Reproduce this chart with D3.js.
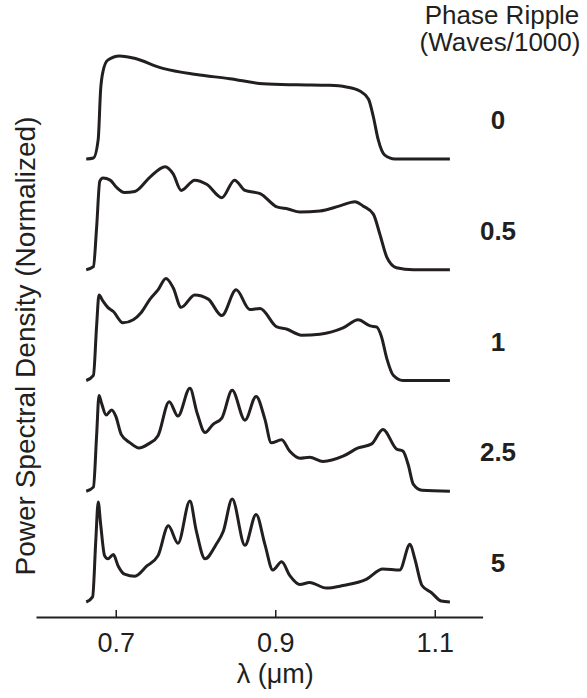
<!DOCTYPE html>
<html>
<head>
<meta charset="utf-8">
<script src="https://cdn.jsdelivr.net/npm/d3@7"></script>
<style>
  body { margin: 0; background: #fff; }
  text { font-family: "Liberation Sans", Arial, sans-serif; fill: #231f20; }
</style>
</head>
<body>
<div id="container"></div>
<script>
var totalWidth = 587,
    totalHeight = 698;

// phase ripple levels (waves/1000), top to bottom
var ripples = ["0", "0.5", "1", "2.5", "5"];
var xTicks = [0.7, 0.9, 1.1];

var lam0 = [0.663, 0.672, 0.678, 0.681, 0.684, 0.690, 0.705, 0.722, 0.759, 0.801, 0.843, 0.885, 0.927, 0.968, 0.989, 1.006, 1.017, 1.023, 1.029, 1.037, 1.050, 1.119];
var psd0 = [0, 0.01, 0.19, 0.67, 0.85, 0.96, 1.0, 0.98, 0.88, 0.82, 0.78, 0.73, 0.72, 0.715, 0.70, 0.66, 0.58, 0.41, 0.19, 0.04, 0, 0];

var lam1 = [0.663, 0.672, 0.676, 0.680, 0.684, 0.693, 0.701, 0.711, 0.724, 0.743, 0.762, 0.772, 0.782, 0.799, 0.814, 0.833, 0.849, 0.862, 0.881, 0.902, 0.916, 0.931, 0.956, 0.981, 1.000, 1.010, 1.023, 1.031, 1.040, 1.052, 1.073, 1.119];
var psd1 = [0, 0.03, 0.41, 0.86, 0.89, 0.87, 0.80, 0.75, 0.76, 0.90, 1.0, 0.93, 0.77, 0.87, 0.83, 0.70, 0.87, 0.77, 0.74, 0.61, 0.59, 0.56, 0.57, 0.62, 0.66, 0.62, 0.54, 0.35, 0.12, 0.02, 0, 0];

var lam2 = [0.663, 0.672, 0.676, 0.679, 0.684, 0.690, 0.697, 0.709, 0.722, 0.732, 0.743, 0.753, 0.763, 0.772, 0.782, 0.799, 0.816, 0.833, 0.851, 0.868, 0.881, 0.902, 0.914, 0.933, 0.956, 0.985, 1.004, 1.019, 1.027, 1.033, 1.040, 1.048, 1.060, 1.119];
var psd2 = [0, 0.05, 0.53, 0.83, 0.77, 0.71, 0.67, 0.56, 0.59, 0.66, 0.79, 0.88, 0.99, 0.90, 0.71, 0.83, 0.79, 0.63, 0.88, 0.69, 0.70, 0.52, 0.50, 0.44, 0.45, 0.51, 0.59, 0.53, 0.52, 0.43, 0.21, 0.05, 0, 0];

var lam3 = [0.663, 0.672, 0.676, 0.679, 0.682, 0.688, 0.695, 0.700, 0.707, 0.718, 0.729, 0.741, 0.753, 0.767, 0.778, 0.793, 0.802, 0.812, 0.822, 0.833, 0.846, 0.862, 0.876, 0.887, 0.895, 0.908, 0.918, 0.931, 0.943, 0.960, 0.985, 1.004, 1.021, 1.035, 1.052, 1.060, 1.067, 1.073, 1.084, 1.119];
var psd3 = [0, 0.04, 0.54, 0.93, 0.86, 0.74, 0.79, 0.73, 0.55, 0.47, 0.42, 0.46, 0.54, 0.87, 0.73, 1.0, 0.76, 0.57, 0.65, 0.71, 0.98, 0.69, 0.92, 0.70, 0.47, 0.50, 0.39, 0.32, 0.33, 0.29, 0.34, 0.42, 0.46, 0.60, 0.41, 0.39, 0.25, 0.07, 0.01, 0];

var lam4 = [0.663, 0.671, 0.675, 0.678, 0.681, 0.686, 0.690, 0.697, 0.703, 0.711, 0.724, 0.739, 0.753, 0.766, 0.778, 0.793, 0.801, 0.812, 0.826, 0.835, 0.846, 0.862, 0.876, 0.887, 0.897, 0.908, 0.918, 0.931, 0.943, 0.964, 0.985, 1.014, 1.035, 1.056, 1.069, 1.075, 1.084, 1.096, 1.108, 1.119];
var psd4 = [0, 0.05, 0.60, 0.97, 0.76, 0.45, 0.42, 0.46, 0.35, 0.27, 0.25, 0.35, 0.45, 0.74, 0.57, 0.98, 0.69, 0.42, 0.56, 0.69, 1.0, 0.55, 0.85, 0.56, 0.31, 0.39, 0.26, 0.17, 0.19, 0.135, 0.16, 0.22, 0.32, 0.31, 0.56, 0.42, 0.16, 0.09, 0.01, 0];

var lams = [lam0, lam1, lam2, lam3, lam4];
var psds = [psd0, psd1, psd2, psd3, psd4];

var curves = ripples.map(function(r, i) {
  return { ripple: r, pts: lams[i].map(function(l, j) { return [l, psds[i][j]]; }) };
});

// scales
var xScale = d3.scaleLinear().domain([0.6, 1.16]).range([36, 482.6]);
var rowScale = d3.scalePoint().domain(ripples).range([159, 602]);
var yScale = d3.scaleLinear().domain([0, 1]).range([0, -103]);

var svg = d3.select("#container")
            .append("svg")
            .attr("width", totalWidth)
            .attr("height", totalHeight);

var line = d3.line()
             .x(function(d) { return xScale(d[0]); })
             .y(function(d) { return yScale(d[1]); })
             .curve(d3.curveMonotoneX);

var rows = svg.append("g").attr("class", "curves")
              .selectAll(".row")
              .data(curves).enter()
              .append("g").attr("class", "row")
              .attr("transform", function(d) { return "translate(0," + rowScale(d.ripple) + ")"; });

rows.append("path")
    .attr("d", function(d) { return line(d.pts); })
    .attr("fill", "none")
    .attr("stroke", "#231f20")
    .attr("stroke-width", 3)
    .attr("stroke-linejoin", "round");

rows.append("text")
    .attr("x", 498)
    .attr("y", -30)
    .attr("text-anchor", "middle")
    .attr("font-size", "26px")
    .attr("font-weight", "bold")
    .text(function(d) { return d.ripple; });

// x axis, ticks pointing up
var xAxis = d3.axisBottom(xScale)
              .tickValues(xTicks)
              .tickSizeInner(-7)
              .tickSizeOuter(0)
              .tickPadding(0)
              .tickFormat(d3.format(".1f"));

var axisG = svg.append("g")
   .attr("class", "x-axis")
   .attr("transform", "translate(0,617)")
   .call(xAxis);
axisG.select(".domain").attr("stroke", "#231f20").attr("stroke-width", 2);
axisG.selectAll(".tick line").attr("stroke", "#231f20").attr("stroke-width", 1.5);
axisG.selectAll(".tick text")
     .attr("y", 35).attr("dy", null)
     .attr("font-size", "27px")
     .attr("font-family", "Liberation Sans, Arial, sans-serif")
     .attr("fill", "#231f20");

svg.append("text")
   .attr("x", xScale(0.9))
   .attr("y", 683)
   .attr("text-anchor", "middle")
   .attr("font-size", "27px")
   .text("\u03bb (\u03bcm)");

svg.append("text")
   .attr("transform", "translate(35,346) rotate(-90)")
   .attr("text-anchor", "middle")
   .attr("font-size", "28px")
   .text("Power Spectral Density (Normalized)");

var header = svg.append("g").attr("class", "header");
header.append("text")
      .attr("x", 502).attr("y", 24)
      .attr("text-anchor", "middle")
      .attr("font-size", "26px")
      .text("Phase Ripple");
header.append("text")
      .attr("x", 500).attr("y", 51)
      .attr("text-anchor", "middle")
      .attr("font-size", "26px")
      .text("(Waves/1000)");
</script>
</body>
</html>
